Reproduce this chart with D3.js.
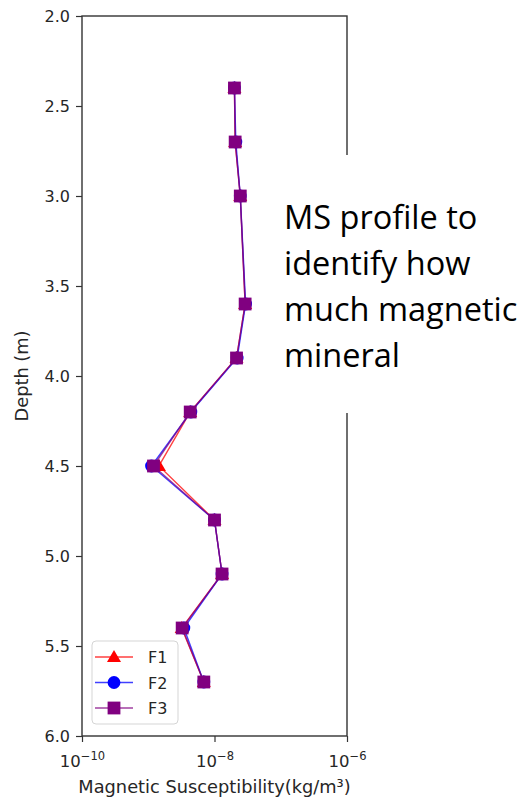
<!DOCTYPE html>
<html>
<head>
<meta charset="utf-8">
<script src="https://cdn.jsdelivr.net/npm/d3@7"></script>
<style>
  html, body { margin: 0; padding: 0; background: #fff; }
  svg { display: block; }
</style>
</head>
<body>
<svg id="chart" width="529" height="798"></svg>
<script>
// Sampling depths (m) and magnetic susceptibility for three fractions
const depths = [2.4, 2.7, 3.0, 3.6, 3.9, 4.2, 4.5, 4.8, 5.1, 5.4, 5.7];
const f1 = [2.0e-8, 2.05e-8, 2.45e-8, 2.9e-8, 2.15e-8, 4.3e-9, 1.45e-9, 1.0e-8, 1.3e-8, 3.2e-9, 6.9e-9];
const f2 = [2.0e-8, 2.1e-8, 2.45e-8, 2.95e-8, 2.2e-8, 4.4e-9, 1.12e-9, 1.0e-8, 1.3e-8, 3.45e-9, 6.9e-9];
const f3 = [2.0e-8, 2.05e-8, 2.45e-8, 2.9e-8, 2.15e-8, 4.3e-9, 1.2e-9, 1.0e-8, 1.3e-8, 3.25e-9, 6.9e-9];
const seriesNames = ["F1", "F2", "F3"];
const seriesColors = ["#ff0000", "#0000ff", "#800080"];
const seriesMarkers = ["triangle", "circle", "square"];
const yTicks = [2.0, 2.5, 3.0, 3.5, 4.0, 4.5, 5.0, 5.5, 6.0];
const xTicks = [1e-10, 1e-8, 1e-6];
const xTickExponents = ["−10", "−8", "−6"];
const noteLines = ["MS profile to", "identify how", "much magnetic", "mineral"];

const svg = d3.select("#chart");
const plotLeft = 82, plotRight = 347, plotTop = 16, plotBottom = 736;
const x = d3.scaleLog().domain([1e-10, 1e-6]).range([plotLeft, plotRight]);
const y = d3.scaleLinear().domain([2, 6]).range([plotTop, plotBottom]);
const axisColor = "#333";
const textColor = "#262626";
const font = "DejaVu Sans, sans-serif";

// Frame
svg.append("rect")
  .attr("x", plotLeft).attr("y", plotTop)
  .attr("width", plotRight - plotLeft).attr("height", plotBottom - plotTop)
  .attr("fill", "none").attr("stroke", axisColor).attr("stroke-width", 1.4);

// Y axis
const yAxis = svg.append("g").attr("transform", `translate(${plotLeft},0)`)
  .call(d3.axisLeft(y).tickValues(yTicks).tickFormat(d3.format(".1f")).tickSize(6).tickPadding(6));
yAxis.select(".domain").remove();
yAxis.selectAll("line").attr("stroke", axisColor).attr("stroke-width", 1.2);
yAxis.selectAll("text").attr("font-family", font).attr("font-size", 16).attr("fill", textColor);

// X axis
const xAxis = svg.append("g").attr("transform", `translate(0,${plotBottom})`)
  .call(d3.axisBottom(x).tickValues(xTicks).tickFormat(() => "").tickSize(6));
xAxis.select(".domain").remove();
xAxis.selectAll("line").attr("stroke", axisColor).attr("stroke-width", 1.2);
xAxis.selectAll("g.tick").each(function (d, i) {
  const t = d3.select(this).append("text")
    .attr("y", 31).attr("text-anchor", "middle")
    .attr("font-family", font).attr("fill", textColor);
  t.append("tspan").attr("font-size", 16.5).text("10");
  t.append("tspan").attr("font-size", 11.5).attr("dy", -7).text(xTickExponents[i]);
});

// Axis titles
svg.append("text")
  .attr("x", (plotLeft + plotRight) / 2).attr("y", 793)
  .attr("text-anchor", "middle")
  .attr("font-family", font).attr("font-size", 17.8).attr("fill", textColor)
  .text("Magnetic Susceptibility(kg/m³)");
svg.append("text")
  .attr("transform", `translate(28,${(plotTop + plotBottom) / 2}) rotate(-90)`)
  .attr("text-anchor", "middle")
  .attr("font-family", font).attr("font-size", 17.8).attr("fill", textColor)
  .text("Depth (m)");

// Marker shapes
function drawMarker(g, kind, cx, cy, color) {
  if (kind === "triangle") {
    g.append("path")
      .attr("d", d3.symbol(d3.symbolTriangle, 85)())
      .attr("transform", `translate(${cx},${cy + 1})`)
      .attr("fill", color);
  } else if (kind === "circle") {
    g.append("circle").attr("cx", cx).attr("cy", cy).attr("r", 6.4).attr("fill", color);
  } else {
    g.append("rect").attr("x", cx - 6.4).attr("y", cy - 6.4).attr("width", 12.8).attr("height", 12.8).attr("fill", color);
  }
}

// Series
const allSeries = [f1, f2, f3];
const line = d3.line().x(d => x(d[0])).y(d => y(d[1]));
allSeries.forEach((vals, si) => {
  const pts = vals.map((v, i) => [v, depths[i]]);
  const g = svg.append("g");
  g.append("path").datum(pts)
    .attr("d", line)
    .attr("fill", "none")
    .attr("stroke", seriesColors[si])
    .attr("stroke-width", 1.4)
    .attr("stroke-opacity", 0.75);
  pts.forEach(p => drawMarker(g, seriesMarkers[si], x(p[0]), y(p[1]), seriesColors[si]));
});

// Legend
const leg = svg.append("g");
leg.append("rect")
  .attr("x", 92).attr("y", 641).attr("width", 86).attr("height", 83)
  .attr("rx", 4).attr("fill", "#fff").attr("fill-opacity", 0.85)
  .attr("stroke", "#d5d5d5").attr("stroke-width", 1);
seriesNames.forEach((name, i) => {
  const cy = 657 + i * 25.5;
  leg.append("line").attr("x1", 95).attr("x2", 133).attr("y1", cy).attr("y2", cy)
    .attr("stroke", seriesColors[i]).attr("stroke-width", 1.4).attr("stroke-opacity", 0.75);
  drawMarker(leg, seriesMarkers[i], 114, cy, seriesColors[i]);
  leg.append("text").attr("x", 148).attr("y", cy + 6)
    .attr("font-family", font).attr("font-size", 16).attr("fill", textColor)
    .text(name);
});

// Annotation box over the right side
svg.append("rect")
  .attr("x", 274).attr("y", 155).attr("width", 255).attr("height", 258)
  .attr("fill", "#fff");
const note = svg.append("text")
  .attr("font-family", "'Open Sans', Lato, sans-serif")
  .attr("font-size", 32.5).attr("fill", "#000");
noteLines.forEach((s, i) => {
  note.append("tspan").attr("x", 284).attr("y", 229 + i * 46).text(s);
});
</script>
</body>
</html>
